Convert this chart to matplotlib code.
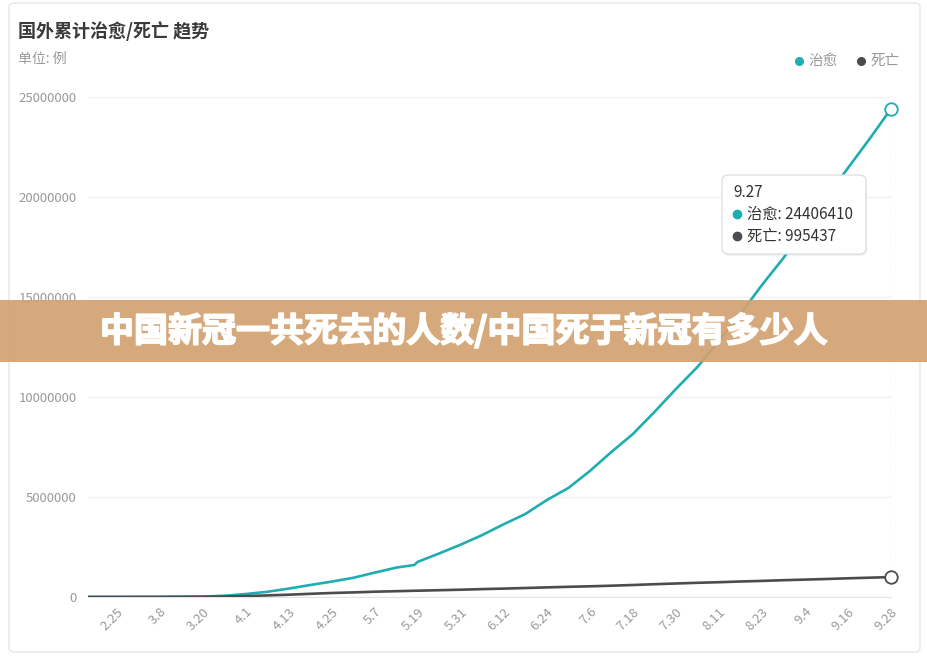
import matplotlib
matplotlib.use("Agg")
import matplotlib.pyplot as plt
from matplotlib.patches import FancyBboxPatch, Rectangle
from matplotlib.lines import Line2D
import matplotlib.patheffects as pe
import pandas as pd

plt.rcParams['font.family'] = ['Noto Sans CJK SC', 'DejaVu Sans']

# ---- data ----
sample_dates = ["2020-02-17", "2020-02-25", "2020-03-08", "2020-03-20", "2020-03-26",
                "2020-04-01", "2020-04-07", "2020-04-13", "2020-04-19", "2020-04-25",
                "2020-05-01", "2020-05-07", "2020-05-13", "2020-05-18", "2020-05-19",
                "2020-05-25", "2020-05-31", "2020-06-06", "2020-06-12", "2020-06-18",
                "2020-06-24", "2020-06-30", "2020-07-06", "2020-07-12", "2020-07-18",
                "2020-07-24", "2020-07-30", "2020-08-05", "2020-08-11", "2020-08-17",
                "2020-08-23", "2020-08-29", "2020-09-04", "2020-09-10", "2020-09-16",
                "2020-09-22", "2020-09-28"]
recovered = [600, 1000, 5000, 25000, 60000,
             150000, 260000, 420000, 600000, 770000,
             960000, 1220000, 1470000, 1600000, 1760000,
             2180000, 2620000, 3100000, 3640000, 4150000,
             4850000, 5450000, 6300000, 7250000, 8150000,
             9250000, 10400000, 11500000, 12800000, 14150000,
             15600000, 16950000, 18500000, 20000000, 21450000,
             22900000, 24406410]
deaths = [2000, 3000, 4000, 11000, 22000,
          45000, 80000, 115000, 160000, 200000,
          230000, 265000, 290000, 312000, 315000,
          340000, 365000, 395000, 420000, 450000,
          480000, 510000, 535000, 565000, 600000,
          640000, 675000, 710000, 740000, 775000,
          805000, 840000, 870000, 900000, 935000,
          965000, 995437]
tick_dates = ["2020-02-25", "2020-03-08", "2020-03-20", "2020-04-01", "2020-04-13",
              "2020-04-25", "2020-05-07", "2020-05-19", "2020-05-31", "2020-06-12",
              "2020-06-24", "2020-07-06", "2020-07-18", "2020-07-30", "2020-08-11",
              "2020-08-23", "2020-09-04", "2020-09-16", "2020-09-28"]
y_ticks = [0, 5000000, 10000000, 15000000, 20000000, 25000000]
series_names = ["治愈", "死亡"]
tooltip_date = "9.27"
title = "国外累计治愈/死亡 趋势"
subtitle = "单位: 例"
banner = "中国新冠一共死去的人数/中国死于新冠有多少人"

teal = "#1fadb0"
dark = "#4b4b50"

start = pd.Timestamp(sample_dates[0])
xs = [(pd.Timestamp(d) - start).days for d in sample_dates]
txs = [(pd.Timestamp(d) - start).days for d in tick_dates]
tlabels = [f"{pd.Timestamp(d).month}.{pd.Timestamp(d).day}" for d in tick_dates]

W, H = 927, 663
fig = plt.figure(figsize=(W / 100, H / 100), dpi=100)
fig.patch.set_facecolor("white")

def fx(px):
    return px / W

def fy(py):
    return 1 - py / H

# card
card = FancyBboxPatch((fx(9), fy(652)), fx(911), 649 / H,
                      boxstyle="round,pad=0,rounding_size=0.006",
                      transform=fig.transFigure, facecolor="white",
                      edgecolor="#e6e6e6", linewidth=1, zorder=-5)
fig.add_artist(card)

ax = fig.add_axes([fx(88), fy(597), fx(803), 500 / H])
ax.set_facecolor("none")
ax.plot(xs, recovered, color=teal, lw=1.9, zorder=3, solid_joinstyle="round")
ax.plot(xs, deaths, color=dark, lw=1.9, zorder=3, solid_joinstyle="round")
ax.axvline(xs[-1], color="#bbbbbb", lw=0.9, ls=(0, (2, 3)), zorder=2)
ax.plot([xs[-1]], [recovered[-1]], marker="o", ms=9, mfc="white", mec=teal, mew=1.3, zorder=4, clip_on=False)
ax.plot([xs[-1]], [deaths[-1]], marker="o", ms=9, mfc="white", mec=dark, mew=1.3, zorder=4, clip_on=False)

ax.set_xlim(0, xs[-1])
ax.set_ylim(0, 25000000)
ax.set_yticks(y_ticks)
ax.set_yticklabels([str(v) for v in y_ticks], color="#999999", fontsize=9.5)
ax.set_xticks(txs)
ax.set_xticklabels(tlabels, rotation=45, ha="right", rotation_mode="anchor",
                   color="#999999", fontsize=9.5)
ax.tick_params(axis="both", length=0, pad=8)
ax.tick_params(axis="x", pad=6)
ax.grid(axis="y", color="#f2f2f2", lw=1)
ax.set_axisbelow(True)
for s in ["top", "right", "left"]:
    ax.spines[s].set_visible(False)
ax.spines["bottom"].set_color("#e3e3e3")

# titles
fig.text(fx(18), fy(31), title, fontsize=13, fontweight="bold", color="#3a3a3a", va="center", ha="left")
fig.text(fx(18), fy(59), subtitle, fontsize=10, color="#999999", va="center", ha="left")

# legend
fig.add_artist(Line2D([fx(799)], [fy(61)], marker="o", ms=5.5, color=teal, transform=fig.transFigure))
fig.text(fx(808), fy(61), series_names[0], fontsize=10.5, color="#999999", va="center", ha="left")
fig.add_artist(Line2D([fx(861)], [fy(61)], marker="o", ms=5.5, color=dark, transform=fig.transFigure))
fig.text(fx(871), fy(61), series_names[1], fontsize=10.5, color="#999999", va="center", ha="left")

# tooltip
shadow = FancyBboxPatch((fx(723), fy(256)), fx(144), 80 / H,
                        boxstyle="round,pad=0,rounding_size=0.008",
                        transform=fig.transFigure, facecolor="#000000", alpha=0.05,
                        edgecolor="none", zorder=8)
tip = FancyBboxPatch((fx(722), fy(254)), fx(144), 79 / H,
                     boxstyle="round,pad=0,rounding_size=0.008",
                     transform=fig.transFigure, facecolor="white",
                     edgecolor="#dddddd", linewidth=0.9, zorder=9)
fig.add_artist(shadow)
fig.add_artist(tip)
fig.text(fx(733), fy(192), tooltip_date, fontsize=11, color="#333333", va="center", ha="left", zorder=10)
fig.add_artist(Line2D([fx(737)], [fy(214)], marker="o", ms=6, color=teal, transform=fig.transFigure, zorder=10))
fig.text(fx(747), fy(214), f"{series_names[0]}: {recovered[-1]}", fontsize=11, color="#333333", va="center", ha="left", zorder=10)
fig.add_artist(Line2D([fx(737)], [fy(236)], marker="o", ms=6, color=dark, transform=fig.transFigure, zorder=10))
fig.text(fx(747), fy(236), f"{series_names[1]}: {deaths[-1]}", fontsize=11, color="#333333", va="center", ha="left", zorder=10)

# banner
band = Rectangle((0, fy(362)), 1, 62 / H, transform=fig.transFigure,
                 facecolor="#d3a271", alpha=0.92, edgecolor="none", zorder=20)
fig.add_artist(band)
fig.text(0.5, fy(331), banner, fontsize=24.5, fontweight="heavy", color="white",
         ha="center", va="center", zorder=21,
         path_effects=[pe.withStroke(linewidth=1.2, foreground="white")])

fig.savefig("out.png", dpi=100, facecolor="white")
